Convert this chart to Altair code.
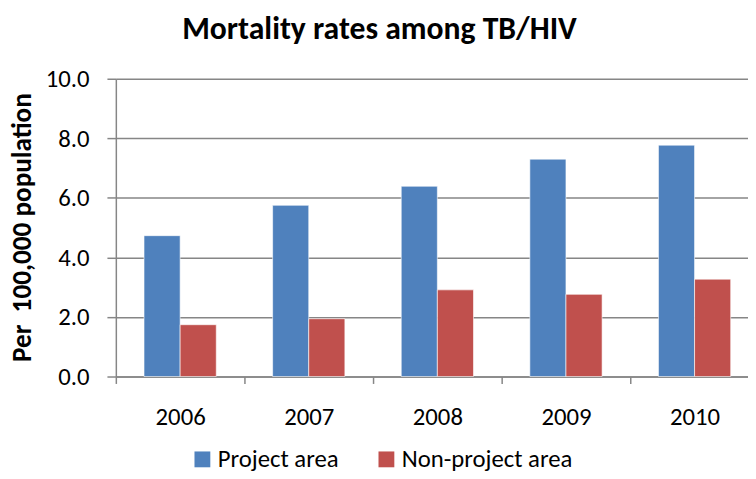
import altair as alt
import pandas as pd

years = ["2006", "2007", "2008", "2009", "2010"]
series = ["Project area", "Non-project area"]
project = [4.73, 5.75, 6.39, 7.30, 7.77]
nonproject = [1.74, 1.94, 2.91, 2.76, 3.27]
colors = ["#4F81BD", "#C0504D"]

rows = []
for i, y in enumerate(years):
    rows.append({"Year": y, "Series": series[0], "Value": project[i]})
    rows.append({"Year": y, "Series": series[1], "Value": nonproject[i]})
df = pd.DataFrame(rows)

FONT = "Carlito, Lato, sans-serif"
GRID = "#868686"

chart = alt.Chart(df).mark_bar(
    stroke="white", strokeWidth=1, strokeOpacity=0.6
).encode(
    x=alt.X(
        "Year:N", sort=years,
        scale=alt.Scale(range=[0, 650], paddingInner=0, paddingOuter=0),
        axis=alt.Axis(
            title=None, tickBand="extent", labelAngle=0, labelFont=FONT,
            labelFontSize=25, labelColor="black", labelPadding=21,
            tickSize=7, tickColor=GRID, tickWidth=1.5, domainColor=GRID,
            domainWidth=1.5, grid=False,
        ),
    ),
    xOffset=alt.XOffset(
        "Series:N", sort=series,
        scale=alt.Scale(paddingOuter=0.78, paddingInner=0),
    ),
    y=alt.Y(
        "Value:Q",
        scale=alt.Scale(domain=[0, 10]),
        axis=alt.Axis(
            values=[0, 2, 4, 6, 8, 10], format=".1f",
            title="Per\u00a0 100,000 population", titleFont=FONT,
            titleFontSize=27.5, titleFontWeight="bold", titleColor="black",
            titleAngle=270, titleX=-94, titleY=150, titleAlign="center",
            titleBaseline="middle",
            labelFont=FONT, labelFontSize=25, labelColor="black",
            labelPadding=18, tickSize=9, tickColor=GRID, tickWidth=1.5,
            domainColor=GRID, domainWidth=1.5, grid=True, gridColor=GRID,
            gridWidth=1.5,
        ),
    ),
    color=alt.Color(
        "Series:N", sort=series,
        scale=alt.Scale(domain=series, range=colors),
        legend=alt.Legend(
            title=None, orient="none", legendX=75, legendY=372,
            direction="horizontal", symbolType="square", symbolSize=256,
            symbolStrokeWidth=0, labelFont=FONT, labelFontSize=25,
            labelColor="black", labelOffset=3, columnPadding=35, padding=0,
            labelLimit=0,
        ),
    ),
).properties(
    width=639,
    height=301,
    title=alt.TitleParams(
        "Mortality rates among TB/HIV", font=FONT, fontSize=32,
        fontWeight="bold", color="black", anchor="middle", dx=-53,
        baseline="alphabetic", offset=28, dy=32,
    ),
    autosize=alt.AutoSizeParams(type="none"),
    padding={"left": 109, "top": 69, "right": 0, "bottom": 93},
).configure_view(strokeWidth=0)

chart.save("out.html", embed_options={"renderer": "svg", "actions": False})
